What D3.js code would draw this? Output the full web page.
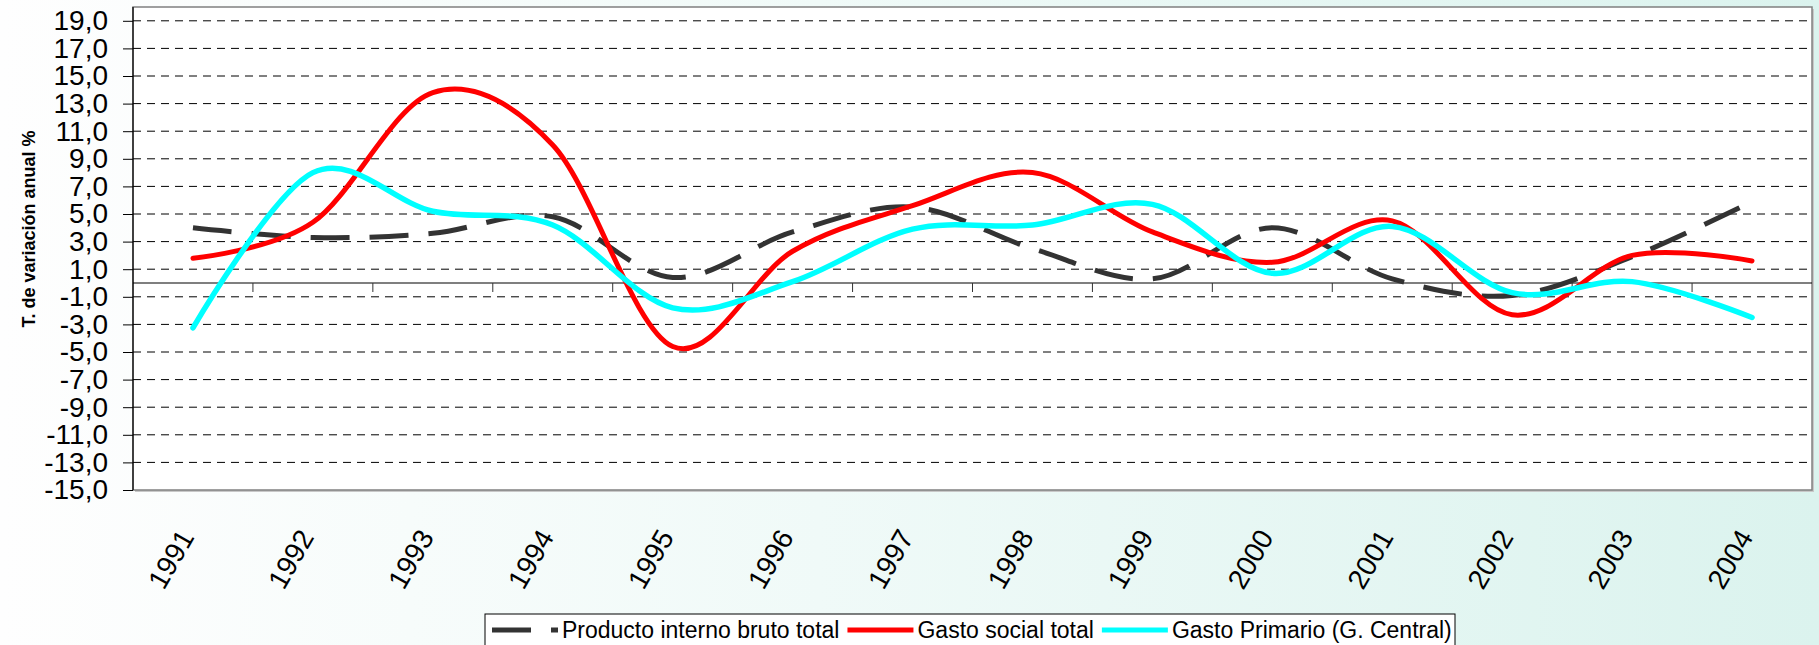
<!DOCTYPE html>
<html>
<head>
<meta charset="utf-8">
<script src="https://cdn.jsdelivr.net/npm/d3@7/dist/d3.min.js"></script>
<style>
  html, body { margin: 0; padding: 0; background: #fff; }
  svg { display: block; font-family: "Liberation Sans", Arial, sans-serif; }
</style>
</head>
<body>
<svg id="chart" width="1819" height="645"></svg>
<script>
// ---- Data ----
const years = ["1991","1992","1993","1994","1995","1996","1997","1998","1999","2000","2001","2002","2003","2004"];
const pibTotal      = [4.0, 3.3, 3.6, 4.8, 0.4, 3.7, 5.5, 2.5, 0.3, 4.0, 0.3, -0.9, 1.9, 5.9];
const gastoSocial   = [1.8, 4.4, 13.8, 10.0, -4.6, 2.3, 5.6, 8.0, 3.7, 1.5, 4.5, -2.3, 2.0, 1.6];
const gastoPrimario = [-3.25, 8.0, 5.2, 4.2, -1.8, 0.1, 3.9, 4.2, 5.7, 0.7, 4.1, -0.7, 0.1, -2.5];
const yTickValues   = [-15, -13, -11, -9, -7, -5, -3, -1, 1, 3, 5, 7, 9, 11, 13, 15, 17, 19];
const seriesNames   = ["Producto interno bruto total", "Gasto social total", "Gasto Primario (G. Central)"];
const yTitle = "T. de variación anual %";

// ---- Layout ----
const W = 1819, H = 645;
const plot = { left: 133, top: 7, right: 1812, bottom: 490 };
const svg = d3.select("#chart");

// background gradient
const defs = svg.append("defs");
const grad = defs.append("linearGradient").attr("id", "bg").attr("x1", "0").attr("x2", "1").attr("y1", "0").attr("y2", "0");
grad.append("stop").attr("offset", "0").attr("stop-color", "#fefefe");
grad.append("stop").attr("offset", "0.45").attr("stop-color", "#f0faf8");
grad.append("stop").attr("offset", "1").attr("stop-color", "#dbf3ee");
svg.append("rect").attr("width", W).attr("height", H).attr("fill", "url(#bg)");

// scales
const x = d3.scaleBand().domain(years).range([plot.left, plot.right]).padding(0);
const cx = d => x(d) + x.bandwidth() / 2;
const y = d3.scaleLinear().domain([-15, 20]).range([plot.bottom, plot.top]);

// plot area with shadow
svg.append("rect").attr("x", plot.left + 2).attr("y", plot.top + 2)
  .attr("width", plot.right - plot.left).attr("height", plot.bottom - plot.top)
  .attr("fill", "#c8c8c8");
svg.append("rect").attr("x", plot.left).attr("y", plot.top)
  .attr("width", plot.right - plot.left).attr("height", plot.bottom - plot.top)
  .attr("fill", "#ffffff").attr("stroke", "#808080").attr("stroke-width", 1.5);

// gridlines
svg.append("g").selectAll("line").data(yTickValues.filter(v => v > -15)).join("line")
  .attr("x1", plot.left).attr("x2", plot.right)
  .attr("y1", d => y(d)).attr("y2", d => y(d))
  .attr("stroke", "#000").attr("stroke-width", 1).attr("stroke-dasharray", "8,6");

// y axis
const fmt = d => (d < 0 ? "-" : "") + Math.abs(d).toFixed(1).replace(".", ",");
const yAxis = d3.axisLeft(y).tickValues(yTickValues).tickSize(10).tickPadding(15).tickFormat(fmt);
const yg = svg.append("g").attr("transform", `translate(${plot.left},0)`).call(yAxis);
yg.select(".domain").remove();
yg.selectAll(".tick line").attr("stroke", "#000");
yg.selectAll(".tick text").attr("font-size", 28).attr("fill", "#000")
  .attr("font-family", "'Liberation Sans', Arial, sans-serif");
svg.append("line").attr("x1", plot.left).attr("x2", plot.left)
  .attr("y1", plot.top).attr("y2", plot.bottom).attr("stroke", "#000").attr("stroke-width", 1.2);

// y title
svg.append("text").attr("transform", "translate(35,229) rotate(-90)")
  .attr("text-anchor", "middle").attr("font-size", 18).attr("font-weight", "bold")
  .attr("fill", "#000").text(yTitle);

// x axis at zero with ticks at category boundaries
svg.append("line").attr("x1", plot.left).attr("x2", plot.right)
  .attr("y1", y(0)).attr("y2", y(0)).attr("stroke", "#000").attr("stroke-width", 1.2);
svg.append("g").selectAll("line").data(years.slice(1)).join("line")
  .attr("x1", d => x(d)).attr("x2", d => x(d))
  .attr("y1", y(0)).attr("y2", y(0) + 9)
  .attr("stroke", "#333").attr("stroke-width", 1);

// x labels
svg.append("g").selectAll("text").data(years).join("text")
  .attr("transform", d => `translate(${cx(d) + 2},537) rotate(-60)`)
  .attr("text-anchor", "end").attr("font-size", 28).attr("fill", "#000")
  .text(d => d);

// lines
const line = data => d3.line()
  .x((d, i) => cx(years[i]))
  .y(d => y(d))
  .curve(d3.curveCardinal.tension(0))(data);

svg.append("path").attr("d", line(pibTotal)).attr("fill", "none")
  .attr("stroke", "#333333").attr("stroke-width", 5).attr("stroke-dasharray", "39,20");
svg.append("path").attr("d", line(gastoSocial)).attr("fill", "none")
  .attr("stroke", "#ff0000").attr("stroke-width", 5).attr("stroke-linecap", "round");
svg.append("path").attr("d", line(gastoPrimario)).attr("fill", "none")
  .attr("stroke", "#00ffff").attr("stroke-width", 5.5).attr("stroke-linecap", "round");

// legend
const lg = svg.append("g");
lg.append("rect").attr("x", 485).attr("y", 614).attr("width", 970).attr("height", 45)
  .attr("fill", "#fff").attr("stroke", "#000").attr("stroke-width", 1);
const styles = [
  { color: "#333333", dash: "39,20" },
  { color: "#ff0000", dash: null },
  { color: "#00ffff", dash: null }
];
let lx = 492;
seriesNames.forEach((name, i) => {
  const s = lg.append("line").attr("x1", lx).attr("x2", lx + 66).attr("y1", 630).attr("y2", 630)
    .attr("stroke", styles[i].color).attr("stroke-width", 5);
  if (styles[i].dash) s.attr("stroke-dasharray", styles[i].dash);
  lx += 70;
  const t = lg.append("text").attr("x", lx).attr("y", 638).attr("font-size", 23).attr("fill", "#000").text(name);
  lx += t.node().getComputedTextLength() + 8;
});
</script>
</body>
</html>
